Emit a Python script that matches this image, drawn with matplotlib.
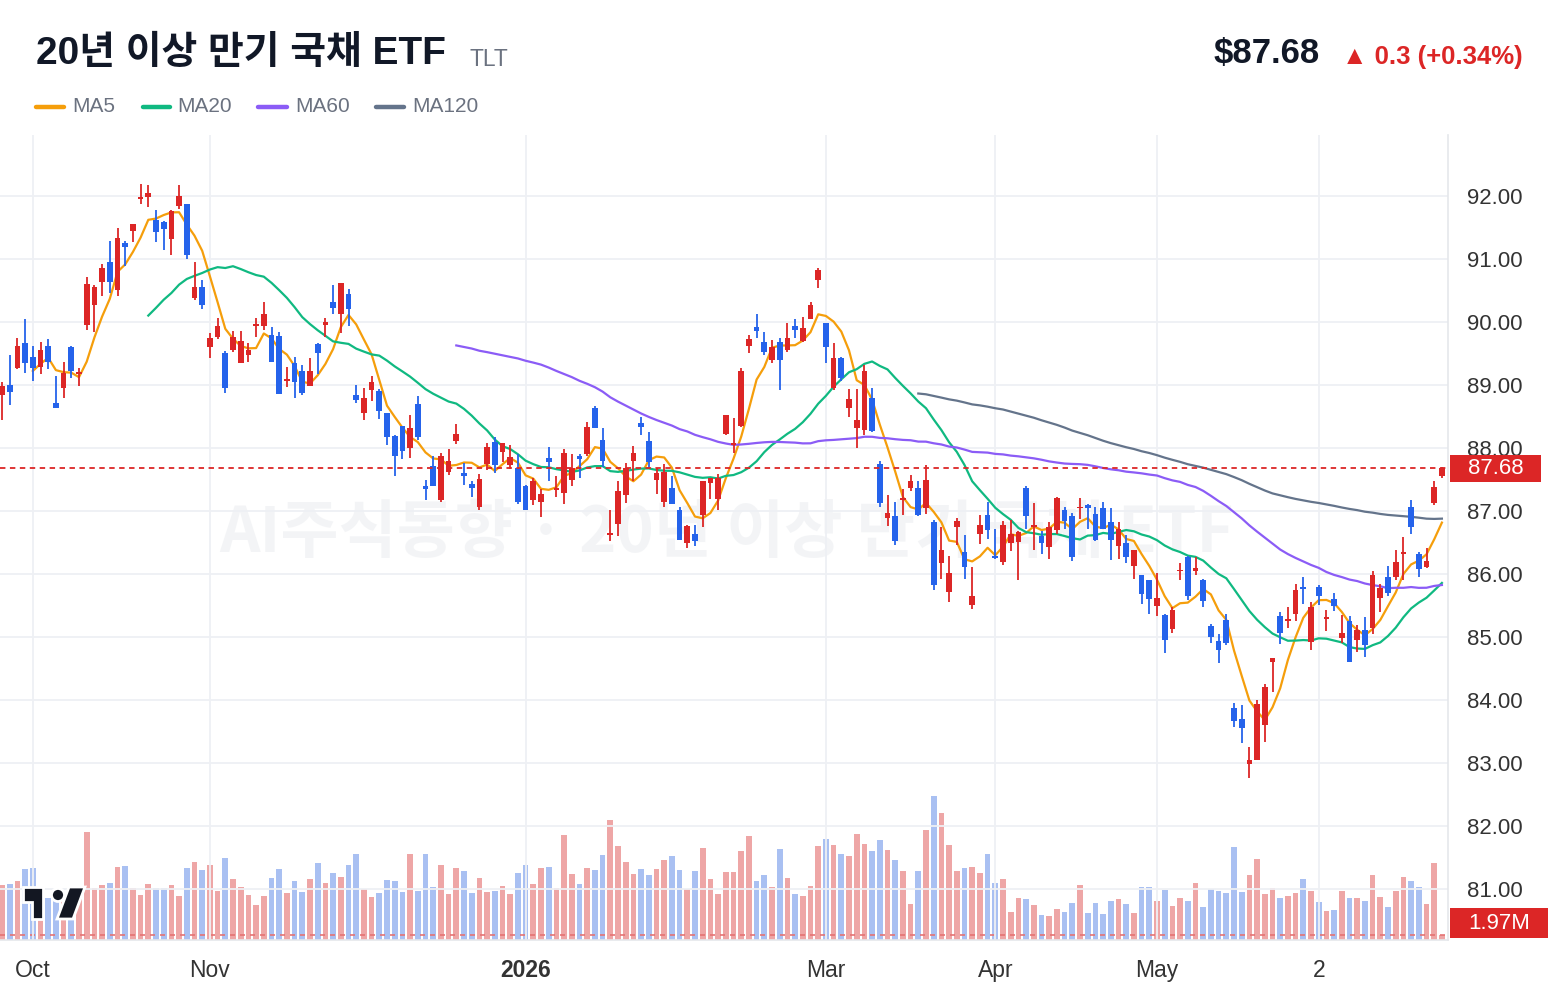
import numpy as np
import pandas as pd
import matplotlib
matplotlib.use("Agg")
import matplotlib.pyplot as plt
import matplotlib.transforms as mtransforms
from matplotlib.patches import Rectangle, Polygon, Ellipse
from matplotlib.lines import Line2D

plt.rcParams['font.family'] = ['Liberation Sans', 'DejaVu Sans', 'Noto Sans CJK KR']

# daily OHLC, oldest first
opens = [88.84, 89.00, 89.27, 89.66, 89.45, 89.29, 89.62, 88.71, 88.96, 89.61,
         89.17, 89.96, 90.27, 90.63, 90.96, 90.50, 91.25, 91.45, 91.96, 91.99,
         91.62, 91.58, 91.31, 91.84, 91.87, 90.38, 90.55, 89.61, 89.76, 89.51,
         89.55, 89.35, 89.48, 89.94, 89.94, 89.80, 89.78, 89.07, 89.35, 89.22,
         88.98, 89.65, 89.96, 90.31, 90.13, 90.45, 88.84, 88.56, 88.92, 88.90,
         88.55, 88.19, 88.35, 88.00, 88.70, 87.39, 87.72, 87.18, 87.62, 88.11,
         87.61, 87.43, 87.07, 87.74, 88.09, 87.94, 87.73, 87.68, 87.40, 87.18,
         87.15, 87.84, 87.33, 87.29, 87.49, 87.88, 87.90, 88.63, 88.12, 86.62,
         86.80, 87.25, 87.80, 88.39, 88.11, 87.49, 87.15, 87.37, 87.02, 86.49,
         86.63, 86.93, 87.45, 87.19, 88.23, 88.05, 88.35, 89.62, 89.92, 89.68,
         89.39, 89.69, 89.55, 89.94, 89.70, 90.05, 90.67, 89.98, 88.96, 89.43,
         88.63, 88.31, 88.29, 88.80, 87.74, 86.89, 86.92, 87.18, 87.36, 87.36,
         87.05, 86.82, 86.17, 85.72, 86.75, 86.35, 85.51, 86.63, 86.93, 86.27,
         86.19, 86.49, 86.51, 87.36, 86.75, 86.60, 86.43, 86.70, 87.01, 86.92,
         87.04, 87.10, 86.96, 87.04, 86.82, 86.45, 86.49, 86.12, 85.99, 85.90,
         85.49, 85.35, 85.13, 86.04, 86.27, 86.05, 85.90, 85.18, 84.93, 85.27,
         83.87, 83.70, 82.98, 83.04, 83.61, 84.60, 85.33, 85.25, 85.36, 85.80,
         84.92, 85.80, 85.29, 85.60, 84.98, 85.25, 84.96, 85.11, 85.15, 85.62,
         85.96, 85.95, 86.31, 87.07, 86.31, 86.11, 87.13, 87.55]
highs = [89.04, 89.47, 89.74, 90.05, 89.62, 89.69, 89.73, 89.15, 89.37, 89.62,
         89.27, 90.72, 90.59, 90.92, 91.29, 91.49, 91.29, 91.55, 92.19, 92.17,
         91.78, 91.60, 91.78, 92.17, 91.87, 90.96, 90.66, 89.82, 90.07, 89.54,
         89.85, 89.86, 89.66, 90.07, 90.31, 89.92, 89.84, 89.29, 89.45, 89.31,
         89.43, 89.66, 90.07, 90.58, 90.62, 90.53, 89.00, 88.96, 89.15, 88.93,
         88.55, 88.21, 88.35, 88.53, 88.82, 87.49, 87.88, 87.92, 87.99, 88.38,
         87.76, 87.48, 87.58, 88.08, 88.17, 88.08, 88.04, 87.90, 87.41, 87.53,
         87.35, 88.02, 87.55, 87.99, 87.91, 87.91, 88.42, 88.67, 88.31, 87.02,
         87.47, 87.76, 88.03, 88.49, 88.25, 87.68, 87.74, 87.56, 87.06, 86.78,
         86.78, 87.48, 87.53, 87.58, 88.53, 88.47, 89.27, 89.80, 90.12, 89.84,
         89.72, 89.74, 89.99, 90.05, 90.08, 90.31, 90.86, 89.99, 89.66, 89.44,
         88.93, 88.93, 89.31, 88.96, 87.80, 87.25, 87.14, 87.35, 87.57, 87.47,
         87.73, 86.86, 86.74, 86.29, 86.89, 86.62, 86.11, 86.94, 87.15, 86.72,
         86.84, 86.85, 86.68, 87.39, 87.13, 86.68, 86.82, 87.23, 87.07, 86.97,
         87.21, 87.11, 87.07, 87.15, 87.04, 86.82, 86.62, 86.38, 85.99, 85.91,
         86.02, 85.37, 85.48, 86.17, 86.29, 86.27, 85.92, 85.21, 85.04, 85.37,
         83.96, 83.92, 83.25, 84.00, 84.25, 84.67, 85.39, 85.48, 85.84, 85.96,
         85.55, 85.82, 85.43, 85.70, 85.35, 85.33, 85.19, 85.31, 86.05, 85.84,
         86.12, 86.38, 86.59, 87.18, 86.35, 86.42, 87.47, 87.70]
lows = [88.45, 88.68, 89.25, 89.19, 89.07, 89.18, 89.25, 88.63, 88.80, 89.11,
        88.98, 89.88, 89.84, 90.41, 90.46, 90.42, 90.89, 91.27, 91.88, 91.82,
        91.27, 91.15, 91.07, 91.80, 91.00, 90.35, 90.20, 89.43, 89.73, 88.88,
        89.52, 89.35, 89.37, 89.76, 89.87, 89.37, 88.86, 88.97, 88.80, 88.84,
        88.98, 89.18, 89.76, 90.12, 89.82, 89.94, 88.71, 88.45, 88.74, 88.46,
        88.04, 87.55, 87.82, 87.84, 88.13, 87.18, 87.39, 87.15, 87.57, 88.07,
        87.41, 87.23, 87.02, 87.65, 87.60, 87.78, 87.66, 87.11, 87.01, 87.10,
        86.90, 87.47, 87.23, 87.11, 87.40, 87.53, 87.87, 88.31, 87.70, 86.53,
        86.60, 87.13, 87.48, 88.20, 87.69, 87.27, 87.06, 87.11, 86.54, 86.42,
        86.45, 86.74, 87.19, 87.01, 88.20, 87.92, 88.33, 89.51, 89.74, 89.47,
        89.35, 88.92, 89.52, 89.74, 89.69, 90.04, 90.54, 89.35, 88.92, 89.07,
        88.50, 88.00, 88.20, 88.25, 87.06, 86.76, 86.46, 86.94, 87.31, 86.92,
        86.96, 85.74, 85.92, 85.56, 86.46, 85.92, 85.45, 86.47, 86.56, 86.24,
        86.15, 86.37, 85.91, 86.72, 86.38, 86.31, 86.24, 86.63, 86.72, 86.20,
        86.88, 86.71, 86.53, 86.71, 86.23, 86.24, 86.17, 85.92, 85.53, 85.36,
        85.33, 84.75, 85.07, 85.90, 85.58, 85.99, 85.48, 84.90, 84.58, 84.88,
        83.57, 83.31, 82.76, 83.04, 83.33, 84.13, 84.89, 85.14, 85.25, 85.53,
        84.80, 85.51, 85.09, 85.41, 84.90, 84.60, 84.76, 84.68, 85.04, 85.40,
        85.65, 85.91, 85.91, 86.63, 85.95, 86.09, 87.10, 87.53]
closes = [88.98, 88.89, 89.62, 89.35, 89.27, 89.55, 89.37, 88.64, 89.19, 89.23,
          89.19, 90.60, 90.56, 90.85, 90.64, 91.33, 91.19, 91.55, 91.99, 92.05,
          91.43, 91.47, 91.76, 92.00, 91.07, 90.55, 90.27, 89.74, 89.94, 88.96,
          89.76, 89.70, 89.55, 89.96, 90.12, 89.37, 88.86, 89.10, 89.05, 88.88,
          89.23, 89.51, 90.00, 90.23, 90.62, 90.20, 88.76, 88.80, 89.05, 88.58,
          88.17, 87.87, 87.95, 88.31, 88.17, 87.35, 87.39, 87.88, 87.80, 88.23,
          87.55, 87.37, 87.51, 88.02, 87.73, 88.08, 87.86, 87.15, 87.01, 87.47,
          87.27, 87.78, 87.35, 87.92, 87.69, 87.82, 88.33, 88.31, 87.80, 86.64,
          87.31, 87.69, 87.92, 88.33, 87.78, 87.60, 87.62, 87.11, 86.54, 86.76,
          86.53, 87.48, 87.53, 87.53, 88.53, 88.08, 89.23, 89.73, 89.86, 89.53,
          89.61, 89.40, 89.74, 89.88, 89.90, 90.27, 90.82, 89.61, 89.43, 89.11,
          88.78, 88.45, 89.23, 88.27, 87.13, 86.97, 86.53, 87.21, 87.47, 86.94,
          87.49, 85.82, 86.38, 86.02, 86.84, 86.11, 85.65, 86.78, 86.70, 86.25,
          86.78, 86.64, 86.66, 86.92, 86.78, 86.49, 86.75, 87.21, 86.84, 86.27,
          87.07, 87.04, 86.54, 86.72, 86.54, 86.71, 86.27, 86.38, 85.68, 85.60,
          85.62, 84.96, 85.43, 86.07, 85.65, 86.09, 85.57, 85.00, 84.80, 84.90,
          83.66, 83.56, 83.04, 83.94, 84.21, 84.67, 85.07, 85.29, 85.74, 85.76,
          85.48, 85.65, 85.31, 85.49, 85.06, 84.60, 85.11, 84.88, 85.98, 85.78,
          85.70, 86.19, 86.35, 86.74, 86.08, 86.20, 87.38, 87.68]
# volume, millions of shares
volumes = [22.0, 22.6, 23.6, 28.6, 29.0, 18.0, 17.0, 16.0, 18.0, 17.0,
           20.0, 43.6, 21.0, 22.0, 23.0, 29.4, 29.8, 20.8, 18.0, 22.4,
           20.8, 20.8, 22.0, 17.6, 29.0, 31.4, 28.2, 30.2, 19.6, 33.0,
           24.6, 21.2, 18.0, 14.0, 17.6, 25.0, 28.6, 18.8, 23.8, 19.2,
           24.6, 31.0, 22.8, 27.0, 25.4, 30.2, 34.6, 20.4, 17.2, 18.8,
           24.2, 23.8, 19.2, 34.6, 19.6, 34.6, 21.2, 30.2, 18.4, 29.0,
           27.8, 18.8, 25.0, 19.2, 19.6, 21.6, 18.4, 27.0, 30.2, 22.4,
           29.0, 29.4, 20.8, 42.4, 26.6, 22.4, 29.0, 28.2, 34.2, 48.4,
           37.8, 31.4, 26.6, 28.6, 26.2, 28.6, 32.2, 33.8, 28.2, 20.4,
           27.8, 37.0, 24.6, 18.4, 27.4, 27.4, 35.8, 42.0, 23.8, 26.2,
           21.2, 36.6, 25.0, 18.4, 17.6, 21.6, 37.8, 40.6, 38.2, 34.6,
           33.8, 42.8, 38.6, 35.8, 40.2, 36.2, 32.2, 27.8, 14.4, 27.8,
           44.4, 58.0, 51.2, 38.2, 27.8, 29.0, 29.4, 27.0, 34.6, 22.8,
           24.6, 11.2, 16.8, 16.4, 14.0, 10.0, 9.6, 12.4, 11.2, 14.8,
           22.0, 10.8, 14.8, 10.4, 15.6, 16.4, 14.4, 10.8, 21.2, 21.2,
           15.6, 20.0, 13.6, 16.8, 15.6, 22.8, 13.2, 20.4, 19.6, 18.8,
           37.4, 19.2, 26.2, 32.6, 18.4, 20.8, 16.8, 17.6, 18.8, 24.6,
           19.6, 15.2, 11.6, 12.0, 19.6, 16.8, 16.8, 15.6, 26.2, 17.2,
           13.2, 19.6, 25.4, 23.8, 21.2, 14.4, 31.0, 1.97]

tick_idx = [4, 27, 68, 107, 129, 150, 171]
tick_labels = ["Oct", "Nov", "2026", "Mar", "Apr", "May", "2"]
price_ticks = [81, 82, 83, 84, 85, 86, 87, 88, 89, 90, 91, 92]
ma_periods = [5, 20, 60, 120]
ma_colors = ["#f59e0b", "#10b981", "#8b5cf6", "#64748b"]

UP, DN = "#dc2626", "#2563eb"
VUP, VDN = "#eea6a6", "#a9c0f2"
GRID = "#eef0f4"

W, H = 1560, 996
fig = plt.figure(figsize=(W / 100, H / 100), dpi=100)
fig.patch.set_facecolor("white")

def fx(x):
    return x / W

def fy(y):
    return 1 - y / H

rect = [0, fy(940), fx(1448), (940 - 135) / H]
axv = fig.add_axes(rect)
ax = fig.add_axes(rect)
axv.set_facecolor("none")
ax.set_facecolor("none")

o = np.array(opens); h = np.array(highs); l = np.array(lows); c = np.array(closes)
v = np.array(volumes)
idx = np.arange(len(c))
up = c >= o
xl = (-2 / 7.7, 1446 / 7.7)

# volume (behind)
axv.bar(idx, v, width=0.75, color=[VUP if u else VDN for u in up], zorder=2)
axv.axhline(v[-1], color="#e57373", lw=1.2, ls=(0, (3, 3)), zorder=3)
axv.set_xlim(xl)
axv.set_ylim(0, 805 * 0.403)
axv.axis("off")
axv.text(0.502, 0.505, "AI주식동향 · 20년 이상 만기 국채 ETF", transform=axv.transAxes,
         ha="center", va="center", fontsize=45.5, fontweight="bold",
         family=["Noto Sans CJK KR"], color="#eceef1", alpha=0.6, zorder=1)

# grid
ax.set_xlim(xl)
ax.set_ylim(92 - (940 - 196) / 63, 92 + (196 - 135) / 63)
ax.set_yticks(price_ticks)
ax.set_yticklabels([f"{p:.2f}" for p in price_ticks])
ax.set_xticks(tick_idx)
ax.set_xticklabels(tick_labels)
ax.grid(True, color=GRID, lw=1.3, zorder=0)
ax.set_axisbelow(True)

# moving averages
s = pd.Series(c)
for p, col in zip(ma_periods, ma_colors):
    ax.plot(idx, s.rolling(p).mean(), color=col, lw=1.6, zorder=3)

# candles
cols = [UP if u else DN for u in up]
ax.vlines(idx, l, h, colors=cols, lw=1.3, zorder=4)
body_lo = np.minimum(o, c)
body_h = np.maximum(np.abs(c - o), 0.03)
ax.bar(idx, body_h, bottom=body_lo, width=0.75, color=cols, zorder=5)

# current price line
last = c[-1]
ax.axhline(last, color=UP, lw=1.3, ls=(0, (3, 2.5)), zorder=6)

for sp in ["top", "left"]:
    ax.spines[sp].set_visible(False)
for sp in ["right", "bottom"]:
    ax.spines[sp].set_color("#e5e7eb")
    ax.spines[sp].set_linewidth(1.2)
ax.yaxis.tick_right()
ax.tick_params(axis="y", length=0, pad=14, labelsize=16, labelcolor="#333333")
ax.tick_params(axis="x", length=0, pad=14, labelsize=16.5, labelcolor="#333333")
for t in ax.get_xticklabels():
    if t.get_text() == "2026":
        t.set_fontweight("bold")

# price label box
bt = mtransforms.blended_transform_factory(ax.transAxes, ax.transData)
ax.add_patch(Rectangle((1450 / 1448, last - 13.5 / 63), 91 / 1448, 27 / 63, transform=bt,
                       fc=UP, ec="none", clip_on=False, zorder=10))
ax.text((1450 + 45.5) / 1448, last, f"{last:.2f}", transform=bt, ha="center",
        va="center", fontsize=16, color="white", zorder=11, clip_on=False)

# volume label box
bv = mtransforms.blended_transform_factory(axv.transAxes, axv.transData)
axv.add_patch(Rectangle((1450 / 1448, 2 * 0.403), 98 / 1448, 30 * 0.403, transform=bv,
                        fc=UP, ec="none", clip_on=False, zorder=10))
axv.text((1450 + 49) / 1448, 17 * 0.403, f"{v[-1]:.2f}M", transform=bv, ha="center",
         va="center", fontsize=16, color="white", zorder=11, clip_on=False)

# header
fig.text(fx(36), fy(54), "20년 이상 만기 국채 ETF", fontsize=28, fontweight="bold",
         family=["Liberation Sans", "Noto Sans CJK KR"], va="center", color="#111827")
fig.text(fx(470), fy(59), "TLT", fontsize=16.5, color="#6b7280", va="center")
fig.text(fx(1320), fy(54), "$87.68", ha="right", va="center", fontsize=25,
         fontweight="bold", color="#111827")
fig.text(fx(1523), fy(57), "▲ 0.3 (+0.34%)", ha="right", va="center", fontsize=18.5,
         fontweight="bold", color=UP)

# legend
leg = [("MA5", 36, 64, 72), ("MA20", 143, 170, 177), ("MA60", 258, 287, 295), ("MA120", 376, 404, 412)]
for (name, x0, x1, xt), col in zip(leg, ma_colors):
    fig.add_artist(Line2D([fx(x0), fx(x1)], [fy(107), fy(107)], transform=fig.transFigure,
                          color=col, lw=3.2, solid_capstyle="round"))
    fig.text(fx(xt), fy(107), name, fontsize=15, color="#6b7280", va="center")

# logo
logo = "#131722"
fig.add_artist(Polygon([(fx(23), fy(887)), (fx(43), fy(887)), (fx(43), fy(919)), (fx(32), fy(919)),
                        (fx(32), fy(902)), (fx(23), fy(902))], closed=True, transform=fig.transFigure,
                       fc=logo, ec="white", lw=2, zorder=20))
fig.add_artist(Ellipse((fx(58), fy(895)), 13 / W, 13 / H, transform=fig.transFigure,
                       fc=logo, ec="white", lw=2, zorder=20))
fig.add_artist(Polygon([(fx(69), fy(887)), (fx(85), fy(887)), (fx(73), fy(919)), (fx(57), fy(919))],
                       closed=True, transform=fig.transFigure, fc=logo, ec="white", lw=2, zorder=20))

fig.savefig("out.png", dpi=100, facecolor="white")
